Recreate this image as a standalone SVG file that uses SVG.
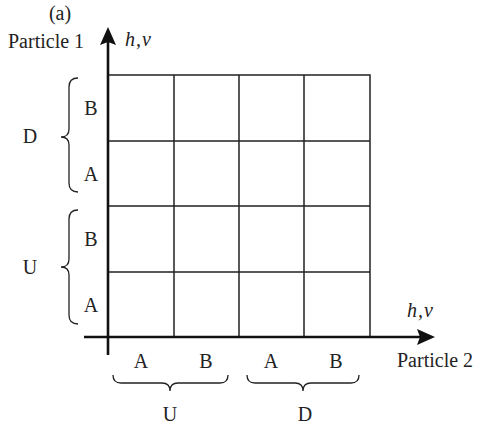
<svg xmlns="http://www.w3.org/2000/svg" width="479" height="431" viewBox="0 0 479 431">
<style>
text{font-family:"Liberation Serif","Times New Roman",serif;font-size:20px;fill:#222}
.it{font-style:italic;letter-spacing:1px}
.mid{text-anchor:middle}
.grid{stroke:#222;stroke-width:1.5;fill:none}
.axis{stroke:#111;stroke-width:2.6;fill:none}
.brace{stroke:#222;stroke-width:1.3;fill:none}
.head{fill:#111;stroke:none}
</style>
<rect width="479" height="431" fill="#fff"/>
<g id="grid">
<path class="grid" d="M108,75H370V337M108,141H370M108,206H370M108,272H370M174,75V337M239,75V337M304,75V337"/>
</g>
<g id="connectors">
<path class="axis" d="M108,355V40"/>
<path class="head" d="M108,27L116,45L108,42L100,45Z"/>
<path class="axis" d="M84,337H420"/>
<path class="head" d="M435,337L417,345L420,337L417,329Z"/>
</g>
<g id="left-braces">
<path class="brace" d="M78,78Q69,78 69,87L69,129Q69,137 61,137Q69,137 69,145L69,183Q69,192 78,192"/>
<path class="brace" d="M78,210Q69,210 69,219L69,259Q69,267 61,267Q69,267 69,275L69,315Q69,324 78,324"/>
</g>
<g id="bottom-braces">
<path class="brace" d="M113,375Q113,383 121,383L162,383Q170,383 170,391Q170,383 178,383L220,383Q228,383 228,375"/>
<path class="brace" d="M247,375Q247,383 255,383L295,383Q303,383 303,391Q303,383 311,383L351,383Q359,383 359,375"/>
</g>
<g id="labels">
<text x="60" y="20" class="mid">(a)</text>
<text x="8" y="48">Particle 1</text>
<text x="125" y="46" class="it">h,v</text>
<text x="407" y="317" class="it">h,v</text>
<text x="397" y="367">Particle 2</text>
<text x="91" y="115" class="mid">B</text>
<text x="91" y="181" class="mid">A</text>
<text x="91" y="246" class="mid">B</text>
<text x="91" y="312" class="mid">A</text>
<text x="30" y="143" class="mid">D</text>
<text x="30" y="274" class="mid">U</text>
<text x="141" y="368" class="mid">A</text>
<text x="206" y="368" class="mid">B</text>
<text x="271" y="368" class="mid">A</text>
<text x="336" y="368" class="mid">B</text>
<text x="170" y="421" class="mid">U</text>
<text x="305" y="421" class="mid">D</text>
</g>
</svg>
